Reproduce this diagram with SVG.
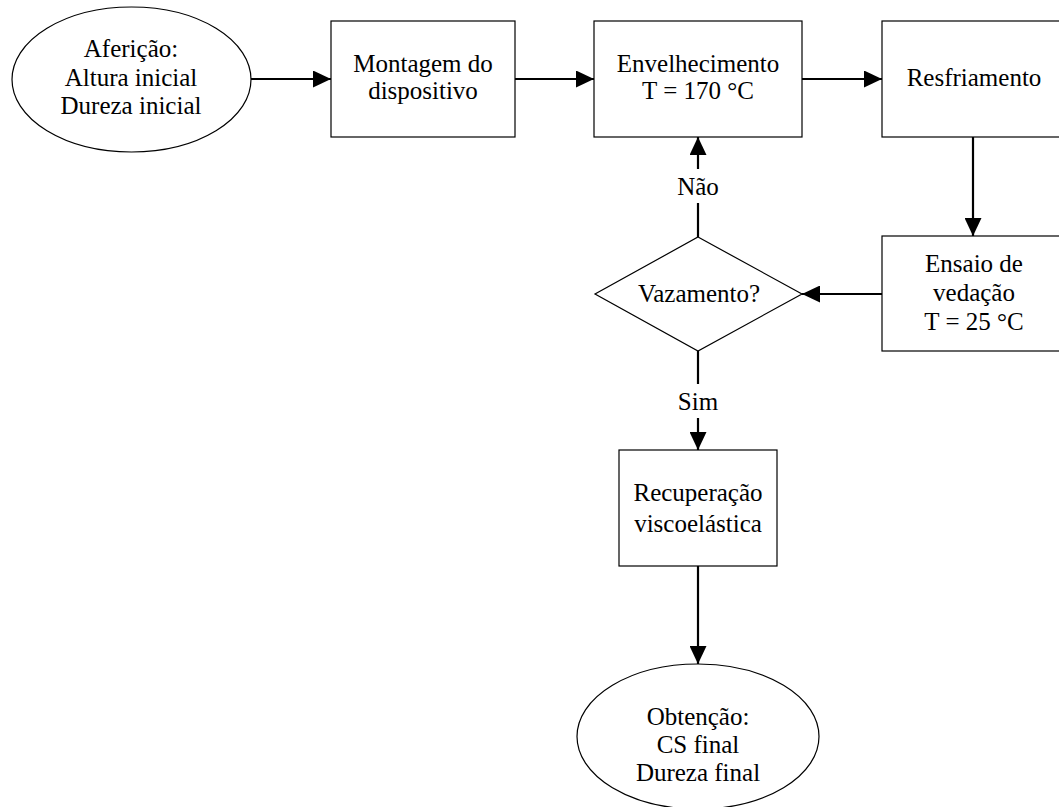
<svg xmlns="http://www.w3.org/2000/svg" width="1059" height="807" viewBox="0 0 1059 807">
<style>
.shape{fill:#fff;stroke:#000;stroke-width:1.2}
.lbl{font-family:"Liberation Serif","Times New Roman",serif;font-size:25px;fill:#000;text-anchor:middle}
.con{stroke:#000;stroke-width:2.2;fill:none}
</style>
<defs>
<marker id="ah" viewBox="0 0 18 17" refX="18" refY="8.5" markerWidth="18" markerHeight="17" markerUnits="userSpaceOnUse" orient="auto">
<path d="M0,0 L18,8.5 L0,17 Z" fill="#000"/>
</marker>
</defs>
<rect width="1059" height="807" fill="#fff"/>
<g id="connectors">
<line class="con" x1="251" y1="79" x2="331" y2="79" marker-end="url(#ah)"/>
<line class="con" x1="515" y1="79" x2="594" y2="79" marker-end="url(#ah)"/>
<line class="con" x1="802" y1="79" x2="882" y2="79" marker-end="url(#ah)"/>
<line class="con" x1="973" y1="137" x2="973" y2="236" marker-end="url(#ah)"/>
<line class="con" x1="882" y1="294" x2="802" y2="294" marker-end="url(#ah)"/>
<line class="con" x1="698" y1="237" x2="698" y2="203"/>
<line class="con" x1="698" y1="169" x2="698" y2="137" marker-end="url(#ah)"/>
<text class="lbl" x="698" y="195">Não</text>
<line class="con" x1="698" y1="351" x2="698" y2="384"/>
<line class="con" x1="698" y1="418" x2="698" y2="450" marker-end="url(#ah)"/>
<text class="lbl" x="698" y="410">Sim</text>
<line class="con" x1="698" y1="566" x2="698" y2="664" marker-end="url(#ah)"/>
</g>
<g id="afericao">
<ellipse class="shape" cx="131.5" cy="79.5" rx="119.5" ry="72.5"/>
<text class="lbl" x="131" y="57">Aferição:</text>
<text class="lbl" x="131" y="86">Altura inicial</text>
<text class="lbl" x="131" y="114">Dureza inicial</text>
</g>
<g id="montagem">
<rect class="shape" x="331" y="21" width="184" height="116"/>
<text class="lbl" x="423" y="72">Montagem do</text>
<text class="lbl" x="423" y="99">dispositivo</text>
</g>
<g id="envelhecimento">
<rect class="shape" x="594" y="21" width="208" height="116"/>
<text class="lbl" x="698" y="72">Envelhecimento</text>
<text class="lbl" x="698" y="99">T = 170 °C</text>
</g>
<g id="resfriamento">
<rect class="shape" x="882" y="21" width="184" height="116"/>
<text class="lbl" x="974" y="86">Resfriamento</text>
</g>
<g id="ensaio">
<rect class="shape" x="882" y="236" width="184" height="115"/>
<text class="lbl" x="974" y="272">Ensaio de</text>
<text class="lbl" x="974" y="301">vedação</text>
<text class="lbl" x="974" y="330">T = 25 °C</text>
</g>
<g id="vazamento">
<polygon class="shape" points="698,237 802,294 698,351 595,294"/>
<text class="lbl" x="699" y="302">Vazamento?</text>
</g>
<g id="recuperacao">
<rect class="shape" x="619" y="450" width="158" height="116"/>
<text class="lbl" x="698" y="501">Recuperação</text>
<text class="lbl" x="698" y="532">viscoelástica</text>
</g>
<g id="obtencao">
<ellipse class="shape" cx="698" cy="736.5" rx="121" ry="72.5"/>
<text class="lbl" x="698" y="725">Obtenção:</text>
<text class="lbl" x="698" y="753">CS final</text>
<text class="lbl" x="698" y="781">Dureza final</text>
</g>
</svg>
